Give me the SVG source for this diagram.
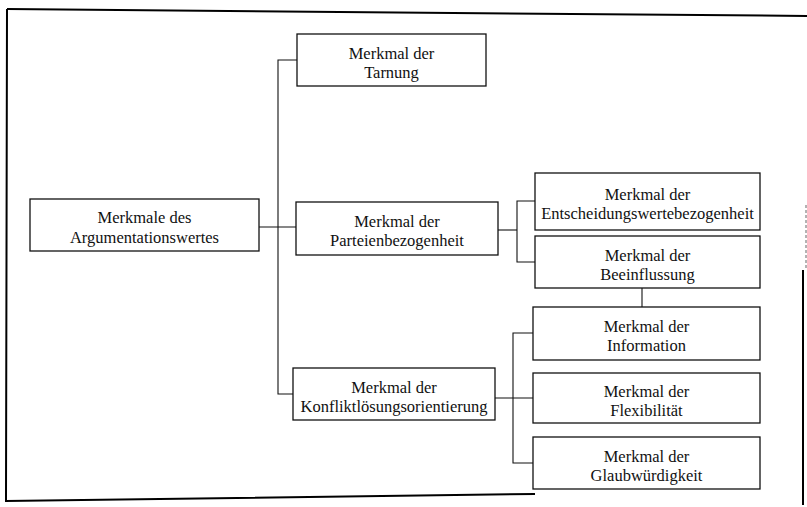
<svg xmlns="http://www.w3.org/2000/svg" width="807" height="507" viewBox="0 0 807 507">
<style>
.box{fill:#fff;stroke:#111;stroke-width:1.3}
.t{font-family:"Liberation Serif","Times New Roman",serif;font-size:16.5px;fill:#111;text-anchor:middle}
.c{fill:none;stroke:#111;stroke-width:1.1}
.f{fill:none;stroke:#000;stroke-width:2}
</style>
<rect width="807" height="507" fill="#fff"/>
<g id="frame">
<path class="f" d="M7,9 L807,16"/>
<path class="f" d="M7,9 L6,501 L535,494"/>
<path class="f" d="M803,270 L803,505"/>
<path d="M806,205 L806,270" fill="none" stroke="#666" stroke-width="1" stroke-dasharray="3,2"/>
</g>
<g id="connectors">
<path class="c" d="M259,227 H296"/>
<path class="c" d="M297,60 H278 V394 H293"/>
<path class="c" d="M498,230 H517"/>
<path class="c" d="M535,201 H517 V262 H535"/>
<path class="c" d="M642,288 V307"/>
<path class="c" d="M495,398 H533"/>
<path class="c" d="M533,333 H513 V463 H533"/>
</g>
<g id="root">
<rect class="box" x="30" y="199" width="229" height="52"/>
<text class="t" x="144.5" y="223">Merkmale des</text>
<text class="t" x="144.5" y="243">Argumentationswertes</text>
</g>
<g id="tarnung">
<rect class="box" x="297" y="34" width="189" height="52"/>
<text class="t" x="391.5" y="58.5">Merkmal der</text>
<text class="t" x="391.5" y="77.5">Tarnung</text>
</g>
<g id="parteien">
<rect class="box" x="296" y="202" width="202" height="53"/>
<text class="t" x="397" y="227">Merkmal der</text>
<text class="t" x="397" y="246">Parteienbezogenheit</text>
</g>
<g id="konflikt">
<rect class="box" x="293" y="368" width="202" height="52"/>
<text class="t" x="394" y="392.5">Merkmal der</text>
<text class="t" x="394" y="411.5">Konfliktlösungsorientierung</text>
</g>
<g id="entscheidung">
<rect class="box" x="535" y="173" width="225" height="57"/>
<text class="t" x="647.5" y="200">Merkmal der</text>
<text class="t" x="647.5" y="219">Entscheidungswertebezogenheit</text>
</g>
<g id="beeinflussung">
<rect class="box" x="535" y="236" width="225" height="52"/>
<text class="t" x="647.5" y="260.5">Merkmal der</text>
<text class="t" x="647.5" y="279.5">Beeinflussung</text>
</g>
<g id="information">
<rect class="box" x="533" y="307" width="227" height="53"/>
<text class="t" x="646.5" y="332">Merkmal der</text>
<text class="t" x="646.5" y="351">Information</text>
</g>
<g id="flexibilitaet">
<rect class="box" x="533" y="373" width="227" height="50"/>
<text class="t" x="646.5" y="396.5">Merkmal der</text>
<text class="t" x="646.5" y="415.5">Flexibilität</text>
</g>
<g id="glaubwuerdigkeit">
<rect class="box" x="533" y="437" width="227" height="52"/>
<text class="t" x="646.5" y="461.5">Merkmal der</text>
<text class="t" x="646.5" y="480.5">Glaubwürdigkeit</text>
</g>
</svg>
